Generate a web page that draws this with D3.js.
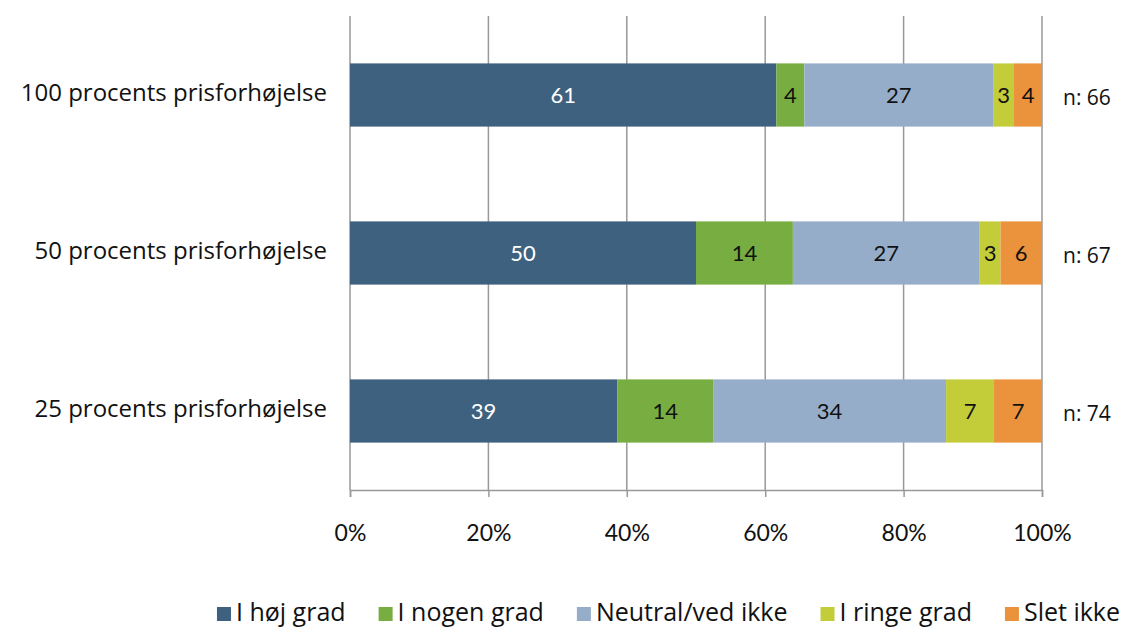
<!DOCTYPE html>
<html>
<head>
<meta charset="utf-8">
<script src="https://cdn.jsdelivr.net/npm/d3@7/dist/d3.min.js"></script>
<style>
  html, body { margin: 0; padding: 0; background: #fff; }
  svg { display: block; }
</style>
</head>
<body>
<svg id="chart" width="1135" height="628"></svg>
<script>
// Categories (top to bottom)
const categories = ["100 procents prisforhøjelse", "50 procents prisforhøjelse", "25 procents prisforhøjelse"];
// Answer series
const seriesNames = ["I høj grad", "I nogen grad", "Neutral/ved ikke", "I ringe grad", "Slet ikke"];
const hoejGrad     = [61, 50, 39];
const nogenGrad    = [4, 14, 14];
const neutral      = [27, 27, 34];
const ringeGrad    = [3, 3, 7];
const sletIkke     = [4, 6, 7];
const respondents  = [66, 67, 74];
const tickValues   = [0, 0.2, 0.4, 0.6, 0.8, 1];
const seriesColors = ["#3f6180", "#78ad41", "#96adc9", "#c3cd3a", "#eb923c"];
const labelColors  = ["#ffffff", "#111111", "#111111", "#111111", "#111111"];

const seriesValues = [hoejGrad, nogenGrad, neutral, ringeGrad, sletIkke];
const rows = categories.map((c, i) => {
  const r = { category: c, n: respondents[i] };
  seriesNames.forEach((s, j) => { r[s] = seriesValues[j][i]; });
  return r;
});

const svg = d3.select("#chart");
const FONT = "'Open Sans', Lato, sans-serif";
const NUMFONT = "Lato, 'Open Sans', sans-serif";

const plot = { left: 350, right: 1042, top: 16, bottom: 490 };

const x = d3.scaleLinear().domain([0, 1]).range([plot.left, plot.right]);
const y = d3.scaleBand().domain(categories).range([plot.top, plot.bottom])
  .paddingInner(0.6).paddingOuter(0.3);
const color = d3.scaleOrdinal().domain(seriesNames).range(seriesColors);
const textColor = d3.scaleOrdinal().domain(seriesNames).range(labelColors);

// Gridlines
svg.append("g")
  .selectAll("line")
  .data(tickValues)
  .join("line")
  .attr("x1", d => x(d)).attr("x2", d => x(d))
  .attr("y1", plot.top).attr("y2", plot.bottom)
  .attr("stroke", "#999").attr("stroke-width", 1.5);

// Stacked, normalised bars
const stacked = d3.stack().keys(seriesNames).offset(d3.stackOffsetExpand)(rows);

const layers = svg.append("g").selectAll("g")
  .data(stacked)
  .join("g")
  .attr("fill", d => color(d.key));

layers.selectAll("rect")
  .data(d => d.map(p => ({ key: d.key, p })))
  .join("rect")
  .attr("x", d => x(d.p[0]))
  .attr("width", d => x(d.p[1]) - x(d.p[0]))
  .attr("y", d => y(d.p.data.category))
  .attr("height", y.bandwidth());

// Value labels centred in each segment
layers.selectAll("text")
  .data(d => d.map(p => ({ key: d.key, p })))
  .join("text")
  .attr("x", d => (x(d.p[0]) + x(d.p[1])) / 2)
  .attr("y", d => y(d.p.data.category) + y.bandwidth() / 2)
  .attr("dy", "0.36em")
  .attr("text-anchor", "middle")
  .attr("font-family", NUMFONT)
  .attr("font-size", 22)
  .attr("fill", d => textColor(d.key))
  .text(d => d.p.data[d.key]);

// Bottom axis
const xAxis = d3.axisBottom(x).tickValues(tickValues)
  .tickFormat(d3.format(".0%")).tickSize(7).tickPadding(28);
const gx = svg.append("g").attr("transform", `translate(0,${plot.bottom})`).call(xAxis);
gx.select(".domain").attr("stroke", "#999").attr("stroke-width", 1.5);
gx.selectAll(".tick line").attr("stroke", "#999").attr("stroke-width", 1.5);
gx.selectAll(".tick text").attr("font-family", NUMFONT).attr("font-size", 23).attr("fill", "#111");

// Category labels
svg.append("g").selectAll("text")
  .data(categories)
  .join("text")
  .attr("x", 327)
  .attr("y", d => y(d) + y.bandwidth() / 2 - 3)
  .attr("dy", "0.36em")
  .attr("text-anchor", "end")
  .attr("font-family", FONT)
  .attr("font-size", 24)
  .attr("fill", "#111")
  .text(d => d);

// Respondent counts
svg.append("g").selectAll("text")
  .data(rows)
  .join("text")
  .attr("x", 1063)
  .attr("y", d => y(d.category) + y.bandwidth() / 2 + 2)
  .attr("dy", "0.36em")
  .attr("font-family", "'Open Sans', sans-serif")
  .attr("font-size", 21)
  .attr("fill", "#111")
  .text(d => "n: " + d.n);

// Legend
const legend = svg.append("g");
const items = legend.selectAll("g").data(seriesNames).join("g");
items.append("rect").attr("width", 14).attr("height", 14).attr("y", -14)
  .attr("fill", d => color(d));
items.append("text").attr("x", 19).attr("y", 0)
  .attr("font-family", FONT).attr("font-size", 25).attr("fill", "#111")
  .text(d => d);
let cx = 0;
const gap = 33;
items.each(function () {
  const w = 19 + this.querySelector("text").getComputedTextLength();
  d3.select(this).attr("transform", `translate(${cx},0)`);
  cx += w + gap;
});
const totalW = cx - gap;
legend.attr("transform", `translate(${(205 + 1132) / 2 - totalW / 2},621)`);
</script>
</body>
</html>
